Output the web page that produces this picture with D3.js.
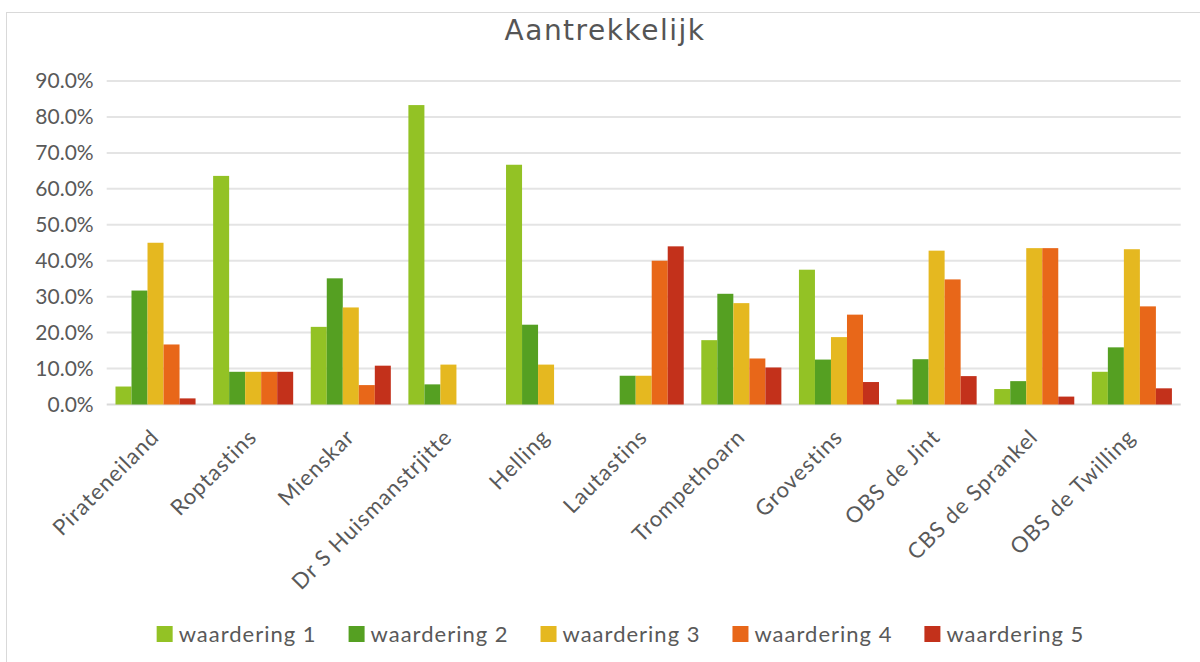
<!DOCTYPE html>
<html>
<head>
<meta charset="utf-8">
<script src="https://cdn.jsdelivr.net/npm/d3@7"></script>
<style>
  html, body { margin: 0; padding: 0; background: #fff; }
  svg { display: block; }
  text { font-family: Lato, "Open Sans", sans-serif; fill: #595959; }
</style>
</head>
<body>
<svg id="chart" width="1200" height="662"></svg>
<script>
const categories = ["Pirateneiland", "Roptastins", "Mienskar", "Dr S Huismanstrjitte", "Helling",
  "Lautastins", "Trompethoarn", "Grovestins", "OBS de Jint", "CBS de Sprankel", "OBS de Twilling"];
const seriesNames = ["waardering 1", "waardering 2", "waardering 3", "waardering 4", "waardering 5"];
const waardering1 = [0.050, 0.636, 0.216, 0.833, 0.667, 0.000, 0.179, 0.375, 0.014, 0.043, 0.091];
const waardering2 = [0.317, 0.091, 0.351, 0.056, 0.222, 0.080, 0.308, 0.125, 0.126, 0.065, 0.159];
const waardering3 = [0.450, 0.091, 0.270, 0.111, 0.111, 0.080, 0.282, 0.1875, 0.428, 0.435, 0.432];
const waardering4 = [0.167, 0.091, 0.054, 0.000, 0.000, 0.400, 0.128, 0.250, 0.348, 0.435, 0.273];
const waardering5 = [0.017, 0.091, 0.108, 0.000, 0.000, 0.440, 0.103, 0.0625, 0.079, 0.022, 0.045];
const seriesValues = [waardering1, waardering2, waardering3, waardering4, waardering5];
const yTicks = [0, 0.1, 0.2, 0.3, 0.4, 0.5, 0.6, 0.7, 0.8, 0.9];
const colors = ["#93c225", "#55a022", "#e5b820", "#e86719", "#c3311b"];
const title = "Aantrekkelijk";

const svg = d3.select("#chart");

// chart frame
svg.append("rect").attr("x", 6.5).attr("y", 12.5).attr("width", 1210).attr("height", 670)
  .attr("fill", "#fff").attr("stroke", "#d9d9d9").attr("stroke-width", 1);

const plot = { left: 106.7, right: 1180.7, top: 81, bottom: 404.5 };

const x0 = d3.scaleBand().domain(categories).range([plot.left, plot.right])
  .paddingInner(0.18).paddingOuter(0.09);
const x1 = d3.scaleBand().domain(seriesNames).range([0, x0.bandwidth()]).padding(0);
const y = d3.scaleLinear().domain([0, 0.9]).range([plot.bottom, plot.top]);

// gridlines
svg.append("g").selectAll("line").data(yTicks).join("line")
  .attr("x1", plot.left).attr("x2", plot.right)
  .attr("y1", d => y(d)).attr("y2", d => y(d))
  .attr("stroke", d => d === 0 ? "#d9d9d9" : "#e4e4e4").attr("stroke-width", 2);

// y axis labels
const yAxis = d3.axisLeft(y).tickValues(yTicks).tickFormat(d3.format(".1%")).tickSize(0).tickPadding(13);
const yG = svg.append("g").attr("transform", `translate(${plot.left},0)`).call(yAxis);
yG.select(".domain").remove();
yG.selectAll("text").attr("font-size", 21).attr("fill", "#595959")
  .style("font-family", "Lato, 'Open Sans', sans-serif");

// bars
const groups = svg.append("g").selectAll("g").data(categories).join("g")
  .attr("transform", d => `translate(${x0(d)},0)`);
groups.selectAll("rect").data((c, i) => seriesNames.map((s, j) => ({ s, v: seriesValues[j][i], j })))
  .join("rect")
  .attr("x", d => x1(d.s)).attr("width", x1.bandwidth())
  .attr("y", d => y(d.v)).attr("height", d => y(0) - y(d.v))
  .attr("fill", d => colors[d.j]);

// x axis labels
const xAxis = d3.axisBottom(x0).tickSize(0).tickPadding(0);
const xG = svg.append("g").attr("transform", `translate(0,${plot.bottom})`).call(xAxis);
xG.select(".domain").remove();
xG.selectAll("text")
  .attr("font-size", 22).attr("fill", "#595959")
  .style("font-family", "Lato, 'Open Sans', sans-serif")
  .style("letter-spacing", "1px")
  .attr("text-anchor", "end")
  .attr("dy", 0).attr("y", 0)
  .attr("transform", "translate(5,34) rotate(-45)");

// title
svg.append("text").attr("x", 605).attr("y", 40).attr("text-anchor", "middle")
  .attr("font-size", 28).style("font-family", "'DejaVu Sans', Lato, sans-serif")
  .style("letter-spacing", "1.5px").style("fill", "#555").text(title);

// legend
const legend = svg.append("g");
const items = legend.selectAll("g").data(seriesNames).join("g");
items.append("rect").attr("width", 16).attr("height", 16).attr("y", -16)
  .attr("fill", (d, i) => colors[i]);
items.append("text").attr("x", 22).attr("y", 0).attr("font-size", 22)
  .style("letter-spacing", "1px").text(d => d);
const gap = 32;
let cx = 0;
items.each(function () {
  const w = this.querySelector("text").getComputedTextLength();
  d3.select(this).attr("transform", `translate(${cx},642)`);
  cx += 22 + w + gap;
});
const total = cx - gap;
legend.attr("transform", `translate(${620.5 - total / 2},0)`);
</script>
</body>
</html>
